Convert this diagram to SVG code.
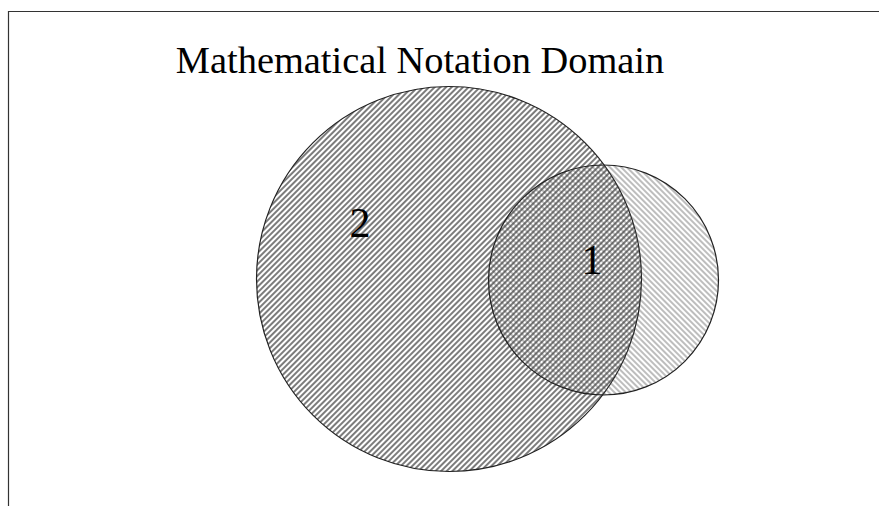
<svg xmlns="http://www.w3.org/2000/svg" width="879" height="506" viewBox="0 0 879 506">
<style>
.t{font-family:"Liberation Serif","Times New Roman",serif;fill:#000}
.edge{stroke:#222;stroke-width:1.2}
</style>
<defs>
<pattern id="h2" patternUnits="userSpaceOnUse" width="4" height="4" patternTransform="rotate(45)">
<rect width="4" height="4" fill="#fff"/>
<line x1="1" y1="0" x2="1" y2="4" stroke="#444" stroke-width="1.4"/>
</pattern>
<pattern id="h1" patternUnits="userSpaceOnUse" width="4" height="4" patternTransform="rotate(-45)">
<line x1="1" y1="0" x2="1" y2="4" stroke="#444" stroke-width="1.4"/>
</pattern>
</defs>
<rect width="879" height="506" fill="#fff"/>
<path d="M8.5 506 V11.5 H879" fill="none" stroke="#333" stroke-width="1.2"/>
<text class="t" x="420" y="73" font-size="38.4" text-anchor="middle">Mathematical Notation Domain</text>
<g id="set2">
<circle class="edge" cx="449" cy="279" r="192.5" fill="url(#h2)"/>
<text class="t" x="360" y="237" font-size="42" text-anchor="middle">2</text>
</g>
<g id="set1">
<circle class="edge" cx="603.5" cy="280" r="115" fill="url(#h1)" fill-opacity="0.5"/>
<text class="t" x="592" y="274" font-size="42" text-anchor="middle">1</text>
</g>
<g id="connectors"/>
</svg>
